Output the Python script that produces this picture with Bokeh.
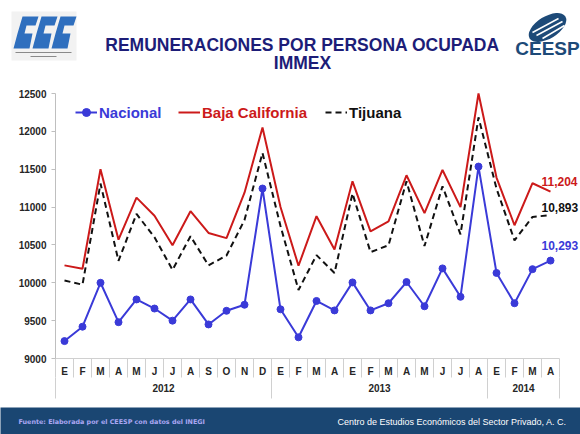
from bokeh.plotting import figure
from bokeh.layouts import column
from bokeh.models import Range1d, FixedTicker, LinearAxis, Legend, LegendItem, ColumnDataSource
from bokeh.core.properties import value
from bokeh.embed import file_html
from bokeh.resources import INLINE

# ---------------- data ----------------
years = ["2012", "2013", "2014"]
months_per_year = [12, 12, 4]
month_labels = ["E", "F", "M", "A", "M", "J", "J", "A", "S", "O", "N", "D",
                "E", "F", "M", "A", "E", "F", "M", "A", "M", "J", "J", "A",
                "E", "F", "M", "A"]
nacional = [9230, 9420, 10000, 9480, 9780, 9660, 9500, 9780, 9450, 9630, 9710, 11245,
            9650, 9280, 9760, 9635, 10005, 9635, 9730, 10010, 9690, 10190, 9815, 11535,
            10130, 9730, 10180, 10293]
baja = [10230, 10185, 11500, 10570, 11125, 10885, 10495, 10945, 10658, 10590, 11190, 12050,
        11000, 10225, 10880, 10440, 11340, 10680, 10810, 11420, 10920, 11490, 11000, 12500,
        11390, 10760, 11315, 11204]
tijuana = [10030, 9975, 11310, 10290, 10910, 10600, 10170, 10615, 10230, 10360, 10830, 11715,
           10750, 9905, 10365, 10130, 11180, 10405, 10495, 11340, 10485, 11275, 10640, 12185,
           11245, 10560, 10870, 10893]
y_ticks = [9000, 9500, 10000, 10500, 11000, 11500, 12000, 12500]

title_lines = ["REMUNERACIONES POR PERSONA OCUPADA", "IMMEX"]
source_text = "Fuente: Elaborada por el CEESP con datos del INEGI"
org_text = "Centro de Estudios Económicos del Sector Privado, A. C."

BLUE = "#3a3ad8"
RED = "#cc1a1a"
BLACK = "#111111"
NAVY = "#1d1d78"
DARKBLUE = "#1d4a78"
FONT = "Liberation Sans"

W = 580
H_HDR, H_MAIN, H_FTR = 85, 322, 27

n = len(month_labels)
xs = [i + 0.5 for i in range(n)]

# ---------------- header ----------------
hdr = figure(width=W, height=H_HDR, x_range=Range1d(0, W), y_range=Range1d(H_HDR, 0),
             x_axis_location=None, y_axis_location=None, toolbar_location=None,
             output_backend="svg", min_border=0, outline_line_color=None)
hdr.grid.visible = False
hdr.text(x=[302, 302], y=[44, 62], text=title_lines, text_align="center",
         text_baseline="middle", text_font=value(FONT), text_font_style="bold",
         text_font_size="17.5px", text_color=NAVY)
# CCE logo (approximation)
hdr.quad(left=[11], right=[76], top=[11], bottom=[60], fill_color="#f2f2f2", line_color=None)
for k in range(3):
    x0 = 13 + k * 19
    hdr.patch(x=[x0 + 9, x0 + 25, x0 + 22, x0 + 13, x0 + 11, x0 + 19, x0 + 16, x0 + 0, x0 + 4],
              y=[16, 16, 25, 25, 33, 33, 48, 48, 33],
              fill_color="#2f6fbe", line_color=None)
hdr.segment(x0=[15, 30], y0=[52, 56], x1=[71, 56], y1=[52, 56], line_color="#8a8a8a", line_width=1.2)
# CEESP logo (approximation)
hdr.ellipse(x=[547], y=[27], width=[42], height=[22], angle=[0.55],
            fill_color=DARKBLUE, line_color=None)
hdr.segment(x0=[532, 536, 542], y0=[32, 35, 38], x1=[558, 562, 564], y1=[18, 21, 25],
            line_color="white", line_width=1.5)
hdr.text(x=[547], y=[48], text=["CEESP"], text_align="center", text_baseline="middle",
         text_font=value(FONT), text_font_style="bold", text_font_size="19px",
         text_color=DARKBLUE)

# ---------------- main chart ----------------
X0_PX, TOP_PX, BOT_PX, CAT_PX = 55, 8, 273, 18
s = (y_ticks[-1] - y_ticks[0]) / (BOT_PX - TOP_PX)          # value units per pixel
y_lo = y_ticks[0] - (H_MAIN - BOT_PX) * s
y_hi = y_ticks[-1] + TOP_PX * s
p = figure(width=W, height=H_MAIN,
           x_range=Range1d(-X0_PX / CAT_PX, (W - X0_PX) / CAT_PX),
           y_range=Range1d(y_lo, y_hi), toolbar_location=None, output_backend="svg",
           min_border=0, outline_line_color=None, x_axis_location=None, y_axis_location=None)
p.grid.visible = False

src = ColumnDataSource(dict(x=xs, nac=nacional, baja=baja, tij=tijuana))

r_baja = p.line("x", "baja", source=src, line_color=RED, line_width=2)
r_tij = p.line("x", "tij", source=src, line_color=BLACK, line_width=2, line_dash="6 4")
r_nac = p.line("x", "nac", source=src, line_color=BLUE, line_width=2)
r_nac_pts = p.scatter("x", "nac", source=src, size=7, fill_color=BLUE, line_color=BLUE)

lab = dict(major_label_text_font=FONT, major_label_text_font_style="bold",
           major_label_text_font_size="10px", major_label_text_color="#262626")

# y axis
yax = LinearAxis(ticker=FixedTicker(ticks=y_ticks), bounds=(y_ticks[0], y_ticks[-1]),
                 fixed_location=0,
                 axis_line_color="#bfbfbf", major_tick_line_color="#bfbfbf",
                 major_tick_out=4, major_tick_in=0, minor_tick_line_color=None,
                 minor_tick_out=0, minor_tick_in=0, major_label_standoff=5, **lab)
p.add_layout(yax, "left")

# month axis
month_ax = LinearAxis(
    ticker=FixedTicker(ticks=xs, minor_ticks=list(range(n + 1))),
    bounds=(0, n), fixed_location=y_ticks[0],
    major_label_overrides={x: m for x, m in zip(xs, month_labels)},
    axis_line_color="#d0d0d0", major_tick_line_color=None, major_tick_out=0, major_tick_in=0,
    minor_tick_line_color="#d0d0d0", minor_tick_out=19, minor_tick_in=0,
    major_label_standoff=-12, **lab)
p.add_layout(month_ax, "below")

# year axis
bounds_y = [0]
for c in months_per_year:
    bounds_y.append(bounds_y[-1] + c)
year_centers = [(a + b) / 2 for a, b in zip(bounds_y[:-1], bounds_y[1:])]
year_ax = LinearAxis(
    ticker=FixedTicker(ticks=year_centers, minor_ticks=bounds_y),
    bounds=(0, n), fixed_location=y_ticks[0] - 19 * s,
    major_label_overrides={x: y for x, y in zip(year_centers, years)},
    axis_line_color=None, major_tick_line_color=None, major_tick_out=0, major_tick_in=0,
    minor_tick_line_color="#d0d0d0", minor_tick_out=21, minor_tick_in=0,
    major_label_standoff=-15, **lab)
p.add_layout(year_ax, "below")

# legends (one per series, to color each label)
def add_legend(label, renderers, color, loc):
    lg = Legend(items=[LegendItem(label=label, renderers=renderers)], location=loc,
                orientation="horizontal", padding=0, margin=0, border_line_color=None,
                background_fill_alpha=0, glyph_width=22, glyph_height=20, label_height=20,
                label_standoff=2, label_text_font=FONT, label_text_font_style="bold",
                label_text_font_size="15px", label_text_color=color)
    p.add_layout(lg, "center")

leg_y = H_MAIN - (112 - H_HDR) - 10
add_legend("Nacional", [r_nac, r_nac_pts], BLUE, (75, leg_y))
add_legend("Baja California", [r_baja], RED, (178, leg_y))
add_legend("Tijuana", [r_tij], BLACK, (325, leg_y))

# end labels
last = n - 1
for series, color, dy in [(baja, RED, 10), (tijuana, BLACK, 8), (nacional, BLUE, 15)]:
    p.text(x=[xs[last]], y=[series[last]], text=[f"{series[last]:,}"], x_offset=-9, y_offset=-dy,
           text_align="left", text_baseline="middle", text_font=value(FONT),
           text_font_style="bold", text_font_size="12px", text_color=color)

# ---------------- footer ----------------
ftr = figure(width=W, height=H_FTR, x_range=Range1d(0, W), y_range=Range1d(H_FTR, 0),
             x_axis_location=None, y_axis_location=None, toolbar_location=None,
             output_backend="svg", min_border=0, outline_line_color=None,
             background_fill_color="#1a4672", border_fill_color="#1a4672")
ftr.grid.visible = False
ftr.text(x=[18], y=[14], text=[source_text], text_baseline="middle",
         text_font=value("DejaVu Sans"), text_font_style="bold", text_font_size="6.4px",
         text_color="#aaa6f2")
ftr.text(x=[337], y=[14], text=[org_text], text_baseline="middle",
         text_font=value(FONT), text_font_size="9px", text_color="white")

layout = column(hdr, p, ftr, spacing=0)
open("out.html", "w").write(file_html(layout, INLINE))
